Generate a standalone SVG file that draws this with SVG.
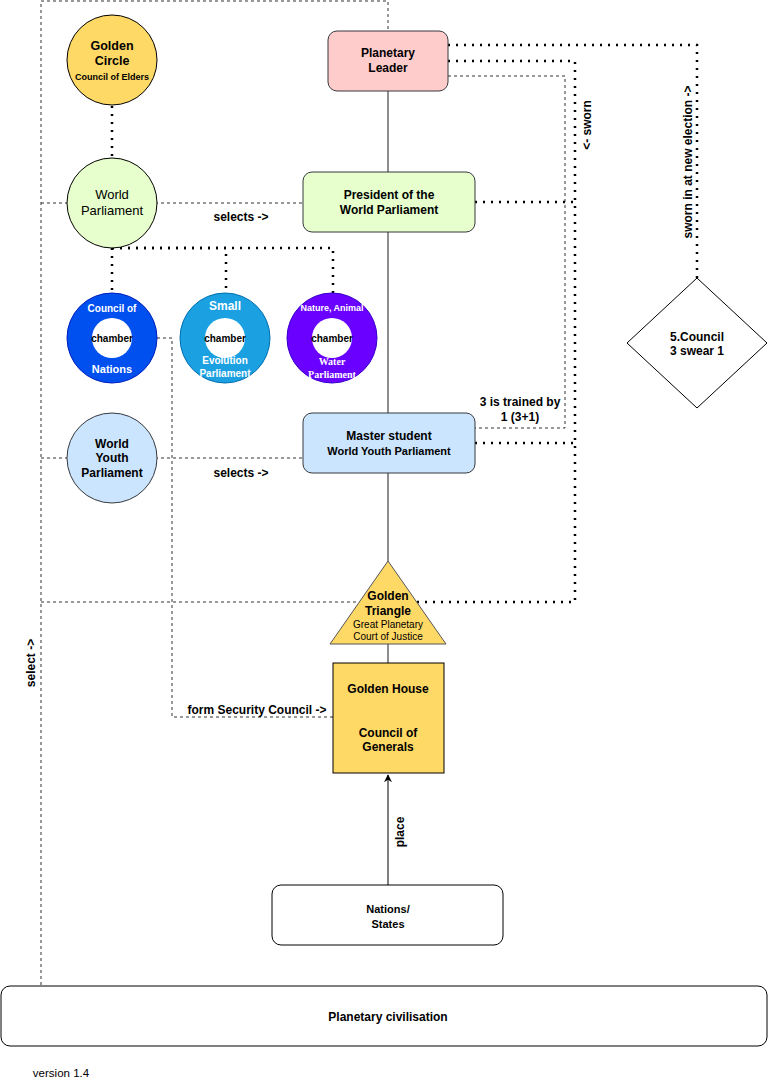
<svg xmlns="http://www.w3.org/2000/svg" width="768" height="1089" viewBox="0 0 768 1089">
<style>
text{font-family:"Liberation Sans",Arial,sans-serif;text-anchor:middle;fill:#000}
.b{font-weight:bold}
.dash{fill:none;stroke:#333;stroke-width:1;stroke-dasharray:3 3}
.dot{fill:none;stroke:#000;stroke-width:2.5;stroke-dasharray:2 6}
.solid{fill:none;stroke:#444;stroke-width:1.2}
.w{fill:#fff}
</style>
<defs>
<marker id="arr" viewBox="0 0 10 10" refX="9" refY="5" markerWidth="8" markerHeight="8" orient="auto-start-reverse" markerUnits="userSpaceOnUse">
<path d="M0,0 L10,5 L0,10 L3,5 Z" fill="#000"/>
</marker>
</defs>
<rect width="768" height="1089" fill="#fff"/>
<g id="connectors">
<path class="dash" d="M41,985 V1 H388 V31"/>
<path class="dot" d="M112,106 V157"/>
<path class="dash" d="M41,203 H303"/>
<path class="dot" d="M112,248 V293"/>
<path class="dot" d="M112,248 H226 V293"/>
<path class="dot" d="M112,248 H333 V293"/>
<path class="dash" d="M157,338 H172 V717 H333"/>
<path class="dash" d="M41,458 H303"/>
<path class="dash" d="M41,602 H360"/>
<path class="dot" d="M417,602 H575 V61 H448"/>
<path class="dot" d="M448,45 H697 V278"/>
<path class="dash" d="M448,76 H565 V428 H475"/>
<path class="dot" d="M475,202 H575"/>
<path class="dot" d="M475,443 H575"/>
<path class="solid" d="M388,91 V172 M388,232 V413 M388,473 V561 M388,644 V663"/>
<path fill="none" stroke="#000" stroke-width="1" d="M388,885 V775" marker-end="url(#arr)"/>
<text class="b" font-size="12" x="241" y="221">selects -&gt;</text>
<text class="b" font-size="12" x="241" y="477">selects -&gt;</text>
<text class="b" font-size="12" x="257" y="714">form Security Council -&gt;</text>
<text class="b" font-size="12" x="520" y="406">3 is trained by</text>
<text class="b" font-size="12" x="520" y="421">1 (3+1)</text>
<text class="b" font-size="12" transform="translate(591,125) rotate(-90)">&lt;- sworn</text>
<text class="b" font-size="12" transform="translate(692,162) rotate(-90)">sworn in at new election -&gt;</text>
<text class="b" font-size="12" transform="translate(404,832) rotate(-90)">place</text>
<text class="b" font-size="12" transform="translate(35,663) rotate(-90)">select -&gt;</text>
</g>
<g id="golden-circle">
<circle cx="112" cy="60" r="45" fill="#ffd966" stroke="#000"/>
<text class="b" font-size="12.5" x="112" y="50">Golden</text>
<text class="b" font-size="12.5" x="112" y="65">Circle</text>
<text class="b" font-size="9" x="112" y="80">Council of Elders</text>
</g>
<g id="world-parliament">
<circle cx="112" cy="203" r="45" fill="#e6ffcc" stroke="#000"/>
<text font-size="13" x="112" y="199">World</text>
<text font-size="13" x="112" y="215">Parliament</text>
</g>
<g id="planetary-leader">
<rect x="328" y="31" width="120" height="60" rx="9" fill="#ffcccc" stroke="#36393d"/>
<text class="b" font-size="12" x="388" y="57">Planetary</text>
<text class="b" font-size="12" x="388" y="72">Leader</text>
</g>
<g id="president">
<rect x="303" y="172" width="172" height="60" rx="9" fill="#e6ffcc" stroke="#36393d"/>
<text class="b" font-size="12" x="389" y="199">President of the</text>
<text class="b" font-size="12" x="389" y="214">World Parliament</text>
</g>
<g id="council-of-nations">
<circle cx="112" cy="338" r="45" fill="#0050ef" stroke="#001dbc"/>
<circle cx="112" cy="338" r="20" fill="#fff"/>
<text class="b w" font-size="10" x="112" y="312">Council of</text>
<text class="b" font-size="10" x="112" y="342">chamber</text>
<text class="b w" font-size="11" x="112" y="373">Nations</text>
</g>
<g id="small-chamber">
<circle cx="225" cy="338" r="45" fill="#1ba1e2" stroke="#006eaf"/>
<circle cx="225" cy="338" r="20" fill="#fff"/>
<text class="b w" font-size="12" x="225" y="310">Small</text>
<text class="b" font-size="10" x="225" y="342">chamber</text>
<text class="b w" font-size="10" x="225" y="364">Evolution</text>
<text class="b w" font-size="10" x="225" y="377">Parliament</text>
</g>
<g id="nature-chamber">
<circle cx="332" cy="338" r="45" fill="#6a00ff" stroke="#3700cc"/>
<circle cx="332" cy="338" r="20" fill="#fff"/>
<text class="b w" font-size="9" x="332" y="311">Nature, Animal</text>
<text class="b" font-size="10" x="332" y="342">chamber</text>
<text class="b w" font-size="10" x="332" y="365" style="font-family:'Liberation Serif',serif">Water</text>
<text class="b w" font-size="10" x="332" y="378" style="font-family:'Liberation Serif',serif">Parliament</text>
</g>
<g id="council-diamond">
<path d="M697,278 L767,343 L697,408 L627,343 Z" fill="#fff" stroke="#000"/>
<text class="b" font-size="12" x="697" y="341">5.Council</text>
<text class="b" font-size="12" x="697" y="355">3 swear 1</text>
</g>
<g id="world-youth-parliament">
<circle cx="112" cy="458" r="45" fill="#cce5ff" stroke="#36393d"/>
<text class="b" font-size="12" x="112" y="448">World</text>
<text class="b" font-size="12" x="112" y="462">Youth</text>
<text class="b" font-size="12" x="112" y="477">Parliament</text>
</g>
<g id="master-student">
<rect x="303" y="413" width="172" height="60" rx="9" fill="#cce5ff" stroke="#36393d"/>
<text class="b" font-size="12" x="389" y="440">Master student</text>
<text class="b" font-size="11" x="389" y="455">World Youth Parliament</text>
</g>
<g id="golden-triangle">
<path d="M388,561 L446,644 L330,644 Z" fill="#ffd966" stroke="#555"/>
<text class="b" font-size="12" x="388" y="600">Golden</text>
<text class="b" font-size="12" x="388" y="615">Triangle</text>
<text font-size="10" x="388" y="628">Great Planetary</text>
<text font-size="10" x="388" y="640">Court of Justice</text>
</g>
<g id="golden-house">
<rect x="333" y="663" width="111" height="110" fill="#ffd966" stroke="#000"/>
<text class="b" font-size="12" x="388" y="693">Golden House</text>
<text class="b" font-size="12" x="388" y="737">Council of</text>
<text class="b" font-size="12" x="388" y="751">Generals</text>
</g>
<g id="nations-states">
<rect x="272" y="885" width="231" height="60" rx="9" fill="#fff" stroke="#000"/>
<text class="b" font-size="11" x="388" y="913">Nations/</text>
<text class="b" font-size="11" x="388" y="928">States</text>
</g>
<g id="planetary-civilisation">
<rect x="1" y="986" width="766" height="60" rx="9" fill="#fff" stroke="#000"/>
<text class="b" font-size="12" x="388" y="1021">Planetary civilisation</text>
</g>
<text font-size="11.5" x="61" y="1077">version 1.4</text>
</svg>
